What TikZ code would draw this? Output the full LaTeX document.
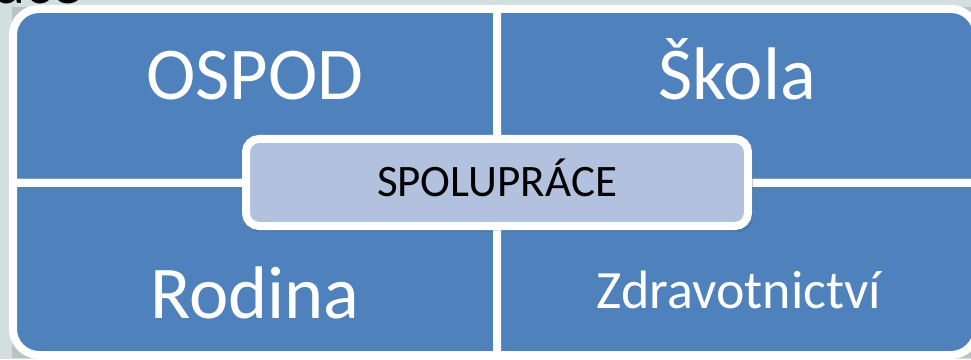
\documentclass[tikz,border=0pt]{standalone}
\usepackage{fontspec}
\setmainfont{Carlito}
\usetikzlibrary{shadows.blur}
\definecolor{pagebg}{RGB}{211,222,222}
\definecolor{quadblue}{RGB}{79,129,189}
\definecolor{centerfill}{RGB}{178,193,222}
\tikzset{
  quad/.style={fill=quadblue, draw=white, line width=8pt, line join=miter},
  bigword/.style={text=white, anchor=base, inner sep=0pt, font=\fontsize{74.5}{74.5}\selectfont},
  centerbox/.style={rectangle, rounded corners=13pt, fill=centerfill, draw=white, line width=8pt,
    minimum width=502pt, minimum height=87pt, inner sep=0pt,
    blur shadow={shadow xshift=1.5pt, shadow yshift=-3pt, shadow blur radius=3pt, shadow opacity=45}},
}
\begin{document}
\begin{tikzpicture}[x=1pt, y=1pt]
\useasboundingbox (0,0) rectangle (971,359);
\clip (0,0) rectangle (971,359);
\fill[pagebg] (0,0) rectangle (971,359);

% slide title, mostly above the visible area
\node[anchor=base east, inner sep=0pt, font=\fontsize{62}{62}\selectfont] (title) at (83,355) {Spolupráce};

% soft shadow under the whole matrix
\fill[black, opacity=0.12] (12,1) rectangle (980,352);

% four quadrants of the matrix, outer corners rounded
\def\R{26}
\path[quad] (497,176) -- (13,176) -- (13,350-\R) arc[start angle=180, end angle=90, radius=\R] -- (497,350) -- cycle;
\path[quad] (497,176) -- (977,176) -- (977,350-\R) arc[start angle=0, end angle=90, radius=\R] -- (497,350) -- cycle;
\path[quad] (497,176) -- (13,176) -- (13,4+\R) arc[start angle=180, end angle=270, radius=\R] -- (497,4) -- cycle;
\path[quad] (497,176) -- (977,176) -- (977,4+\R) arc[start angle=0, end angle=-90, radius=\R] -- (497,4) -- cycle;

\node[bigword] (ospod) at (255,259) {OSPOD};
\node[bigword] (skola) at (737,259) {Škola};
\node[bigword] (rodina) at (255,41) {Rodina};
\node[bigword, font=\fontsize{54}{54}\selectfont] (zdrav) at (739,51) {Zdravotnictví};

% central box
\node[centerbox] (center) at (497,176.5) {};
\node[anchor=base, inner sep=0pt, font=\fontsize{45}{45}\selectfont] (spol) at (497,162) {SPOLUPRÁCE};
\end{tikzpicture}
\end{document}
